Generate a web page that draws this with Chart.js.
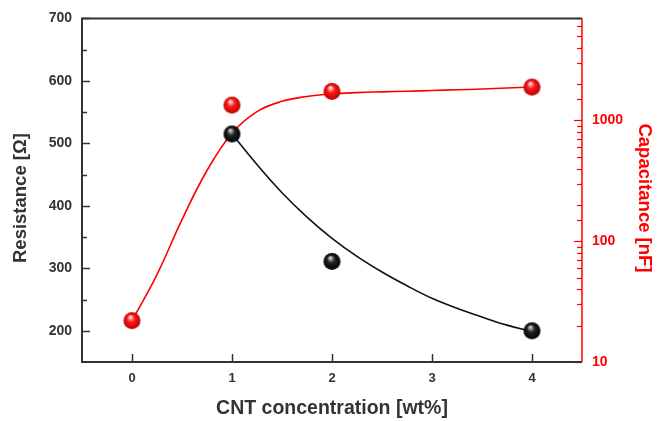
<!DOCTYPE html>
<html>
<head>
<meta charset="utf-8">
<script src="https://cdn.jsdelivr.net/npm/chart.js@4.4.0/dist/chart.umd.min.js"></script>
<style>
  html, body { margin: 0; padding: 0; background: #fff; }
  #wrap { width: 668px; height: 421px; }
</style>
</head>
<body>
<div id="wrap"><canvas id="cntChart" width="668" height="421"></canvas></div>
<script>
// Measured points
const resX = [1, 2, 4];
const resVal = [515, 311, 200];
const capX = [0, 1, 2, 4];
const capVal = [22, 1340, 1740, 1890];

// Fitted curves, every 0.25 wt%
const resFitX = [1, 1.25, 1.5, 1.75, 2, 2.25, 2.5, 2.75, 3, 3.25, 3.5, 3.75, 4];
const resFitY = [515, 466, 421, 382, 348, 319, 294, 272, 252, 236, 222, 209, 199];
const capFitX = [0, 0.25, 0.5, 0.75, 1, 1.25, 1.5, 1.75, 2, 2.25, 2.5, 2.75, 3, 3.25, 3.5, 3.75, 4];
const capFitY = [22, 53, 151, 385, 784, 1184, 1440, 1580, 1660, 1700, 1725, 1747, 1770, 1794, 1821, 1855, 1890];

// Tick labels
const xTicks = [0, 1, 2, 3, 4];
const resTickLabels = [200, 300, 400, 500, 600, 700];
const capTickLabels = [10, 100, 1000];

const FONT = 'Arial, "Liberation Sans", sans-serif';
const TEXT = '#333';
const RED = '#ff0000';

// shaded ball used as point style
function makeBall(r, light, mid, dark) {
    const c = document.createElement('canvas');
    c.width = c.height = r * 2 + 2;
    const g = c.getContext('2d');
    const cx = r + 1, cy = r + 1;
    const grad = g.createRadialGradient(cx - r * 0.2, cy - r * 0.45, r * 0.08, cx, cy, r);
    grad.addColorStop(0, light);
    grad.addColorStop(0.4, mid);
    grad.addColorStop(1, dark);
    g.fillStyle = grad;
    g.beginPath();
    g.arc(cx, cy, r, 0, Math.PI * 2);
    g.fill();
    return c;
}
const redBall = makeBall(8.5, '#ffe0e0', '#ff1a1a', '#b80000');
const blackBall = makeBall(8.5, '#d0d0d0', '#222', '#000');

function pts(xs, ys) {
    return xs.map((x, i) => ({ x: x, y: ys[i] }));
}

// frame, inner tick marks and the two vertical axis titles
const frameAndTicks = {
    id: 'frameAndTicks',
    afterDraw(chart) {
        const { ctx, chartArea: a, scales } = chart;
        ctx.save();
        ctx.lineCap = 'butt';

        ctx.strokeStyle = '#333';
        ctx.lineWidth = 1.5;
        // left axis ticks
        scales.y.ticks.forEach(t => {
            if (t.value <= scales.y.min) return;
            const py = Math.round(scales.y.getPixelForValue(t.value)) + 0.5;
            const len = resTickLabels.includes(t.value) ? 8 : 5;
            ctx.beginPath();
            ctx.moveTo(a.left, py);
            ctx.lineTo(a.left + len, py);
            ctx.stroke();
        });
        // bottom axis ticks
        xTicks.forEach(v => {
            const px = Math.round(scales.x.getPixelForValue(v)) + 0.5;
            ctx.beginPath();
            ctx.moveTo(px, a.bottom);
            ctx.lineTo(px, a.bottom - 8);
            ctx.stroke();
        });

        // right (log) axis ticks
        ctx.strokeStyle = RED;
        ctx.lineWidth = 1.2;
        scales.y1.ticks.forEach(t => {
            const py = Math.round(scales.y1.getPixelForValue(t.value)) + 0.5;
            const major = capTickLabels.some(v => Math.abs(v - t.value) < 1e-6);
            const len = major ? 8 : 5;
            ctx.beginPath();
            ctx.moveTo(a.right, py);
            ctx.lineTo(a.right - len, py);
            ctx.stroke();
        });

        // frame
        ctx.strokeStyle = '#333';
        ctx.lineWidth = 2;
        ctx.beginPath();
        ctx.moveTo(a.right, a.top);
        ctx.lineTo(a.left, a.top);
        ctx.lineTo(a.left, a.bottom);
        ctx.lineTo(a.right, a.bottom);
        ctx.stroke();
        ctx.strokeStyle = RED;
        ctx.lineWidth = 1.5;
        ctx.beginPath();
        ctx.moveTo(a.right, a.top);
        ctx.lineTo(a.right, a.bottom);
        ctx.stroke();

        // vertical titles
        ctx.textAlign = 'center';
        ctx.textBaseline = 'middle';
        ctx.font = 'bold 18.5px ' + FONT;
        ctx.fillStyle = TEXT;
        ctx.translate(21, 198);
        ctx.rotate(-Math.PI / 2);
        ctx.fillText('Resistance [\u03A9]', 0, 0);
        ctx.setTransform(1, 0, 0, 1, 0, 0);
        ctx.font = 'bold 18.5px ' + FONT;
        ctx.fillStyle = RED;
        ctx.translate(644, 198);
        ctx.rotate(Math.PI / 2);
        ctx.fillText('Capacitance [nF]', 0, 0);
        ctx.restore();
    }
};

new Chart(document.getElementById('cntChart'), {
    type: 'scatter',
    data: {
        datasets: [
            {
                label: 'Resistance',
                data: pts(resX, resVal),
                yAxisID: 'y',
                pointStyle: blackBall,
                pointRadius: 9,
                order: 1
            },
            {
                label: 'Capacitance',
                data: pts(capX, capVal),
                yAxisID: 'y1',
                pointStyle: redBall,
                pointRadius: 9,
                order: 1
            },
            {
                label: 'Resistance fit',
                type: 'line',
                data: pts(resFitX, resFitY),
                yAxisID: 'y',
                showLine: true,
                borderColor: '#111',
                borderWidth: 1.6,
                pointRadius: 0,
                tension: 0.4,
                order: 2
            },
            {
                label: 'Capacitance fit',
                type: 'line',
                data: pts(capFitX, capFitY),
                yAxisID: 'y1',
                showLine: true,
                borderColor: RED,
                borderWidth: 1.6,
                pointRadius: 0,
                tension: 0.4,
                order: 2
            }
        ]
    },
    options: {
        responsive: false,
        animation: false,
        layout: { padding: { top: 10, left: 0, right: 0, bottom: 0 } },
        plugins: {
            legend: { display: false },
            tooltip: { enabled: false }
        },
        scales: {
            x: {
                type: 'linear',
                min: -0.5,
                max: 4.5,
                afterBuildTicks: s => { s.ticks = xTicks.map(v => ({ value: v })); },
                afterFit: s => { s.height = 59; },
                grid: { display: false, drawTicks: false },
                border: { display: false },
                ticks: {
                    padding: 9,
                    color: TEXT,
                    font: { family: FONT, size: 13, weight: 'bold' }
                },
                title: {
                    display: true,
                    text: 'CNT concentration [wt%]',
                    color: TEXT,
                    padding: { top: 1, bottom: 1 },
                    font: { family: FONT, size: 19.5, weight: 'bold' }
                }
            },
            y: {
                position: 'left',
                min: 150,
                max: 700,
                afterFit: s => { s.width = 82; },
                grid: { display: false, drawTicks: false },
                border: { display: false },
                ticks: {
                    stepSize: 50,
                    autoSkip: false,
                    padding: 10,
                    color: TEXT,
                    font: { family: FONT, size: 14, weight: 'bold' },
                    callback: v => resTickLabels.includes(v) ? String(v) : ''
                }
            },
            y1: {
                type: 'logarithmic',
                position: 'right',
                min: 10,
                max: 7000,
                afterFit: s => { s.width = 86; },
                grid: { display: false, drawTicks: false },
                border: { display: false },
                ticks: {
                    autoSkip: false,
                    padding: 10,
                    color: RED,
                    font: { family: FONT, size: 14, weight: 'bold' },
                    callback: v => {
                        const hit = capTickLabels.find(c => Math.abs(c - v) < 1e-6);
                        return hit ? String(hit) : '';
                    }
                }
            }
        }
    },
    plugins: [frameAndTicks]
});
</script>
</body>
</html>
